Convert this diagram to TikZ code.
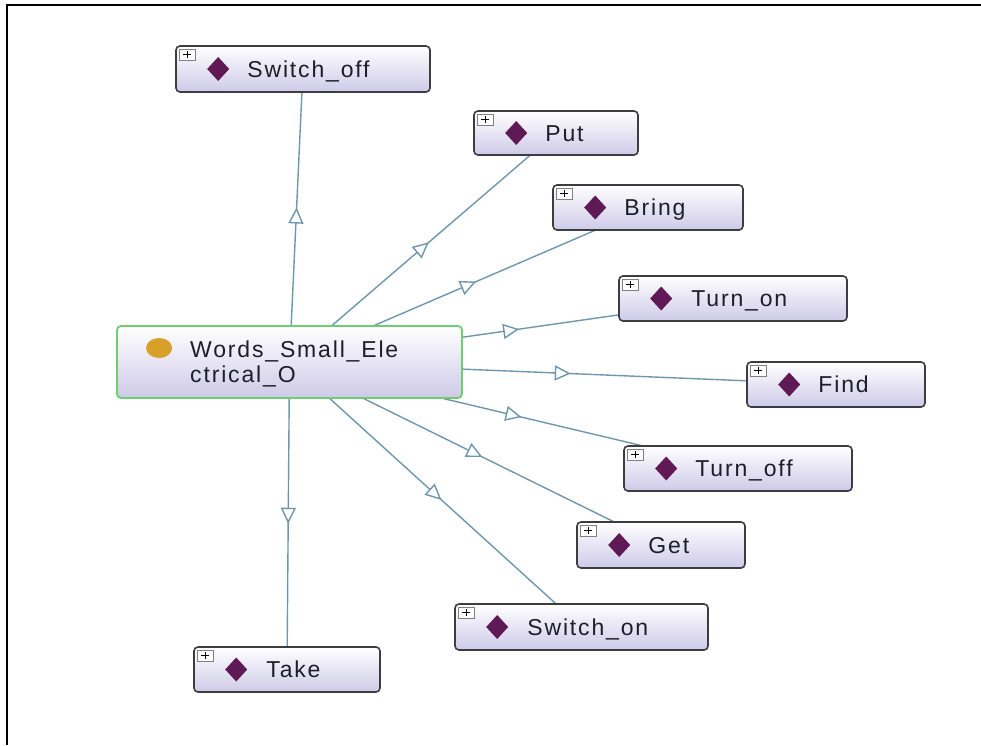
\documentclass[tikz,border=0pt]{standalone}
\usepackage{fontspec}
\setmainfont[LetterSpace=8]{Liberation Sans}
\usetikzlibrary{arrows.meta,decorations.markings,calc}
\pgfdeclarelayer{bg}
\pgfsetlayers{bg,main}
\definecolor{edgec}{RGB}{110,150,172}
\definecolor{bordc}{RGB}{60,60,65}
\definecolor{lav}{RGB}{206,202,232}
\definecolor{dia}{RGB}{95,25,85}
\definecolor{grn}{RGB}{110,205,110}
\definecolor{orng}{RGB}{215,160,40}
\definecolor{txtc}{RGB}{30,30,40}
\tikzset{
 clsbox/.style={draw=bordc, line width=1.6pt, rounded corners=4pt, top color=white, bottom color=lav, inner sep=0pt},
 ctrbox/.style={draw=grn, line width=1.8pt, rounded corners=4pt, top color=white, bottom color=lav, inner sep=0pt},
 lbl/.style={anchor=base west, inner sep=0pt, font=\fontsize{23}{27}\selectfont, text=txtc},
 link/.style={draw=edgec, line width=1.4pt, postaction={decorate},
   decoration={markings, mark=at position 0.5 with {\arrow[xshift=8pt]{Triangle[length=16pt,width=15pt,fill=white,line width=1.4pt]}}}},
}
\newcommand\owlnode[7]{%
 \node[clsbox, minimum width={(#4-#2)*1pt}, minimum height={(#5-#3)*1pt}] (#1) at ({(#2+#4)/2},{(#3+#5)/2}) {};
 \draw[gray, line width=0.8pt, fill=white] ($(#1.north west)+(4,4)$) rectangle +(16,11);
 \draw[black, line width=1pt] ($(#1.north west)+(8,9.5)$) -- +(8,0) ($(#1.north west)+(12,6)$) -- +(0,7);
 \fill[dia] ($(#1.west)+(43,0)$) +(-11,0) -- +(0,-12) -- +(11,0) -- +(0,12) -- cycle;
 \node[lbl] (#1-t) at ($(#1.west)+(#6,8)$) {#7};
}
\begin{document}
\begin{tikzpicture}[x=1pt,y=-1pt]
\useasboundingbox (0,0) rectangle (981,745);
\draw[line width=2pt] (7,745) -- (7,5) -- (981,5);
% center node
\node[ctrbox, minimum width=345pt, minimum height=72pt] (w) at (289.5,362) {};
\fill[orng] ($(w.west)+(43,-14)$) ellipse [x radius=13, y radius=10];
\node[lbl] (w1) at (190,357) {Words\_Small\_Ele};
\node[lbl] (w2) at (190,382) {ctrical\_O};
% outer nodes
\owlnode{so}{176}{46}{430}{92}{72}{Switch\_off}
\owlnode{put}{474}{111}{638}{155}{72}{Put}
\owlnode{bring}{553}{185}{743}{230}{72}{Bring}
\owlnode{turnon}{619}{276}{847}{321}{73}{Turn\_on}
\owlnode{find}{747}{362}{925}{407}{72}{Find}
\owlnode{turnoff}{624}{446}{852}{491}{72}{Turn\_off}
\owlnode{get}{577}{522}{745}{568}{72}{Get}
\owlnode{swon}{455}{604}{708}{650}{73}{Switch\_on}
\owlnode{take}{194}{647}{380}{692}{73}{Take}
\begin{pgfonlayer}{bg}
\foreach \n in {so,put,bring,turnon,find,turnoff,get,swon,take}
  \draw[link] (w.center) -- (\n.center);
\end{pgfonlayer}
\end{tikzpicture}
\end{document}
